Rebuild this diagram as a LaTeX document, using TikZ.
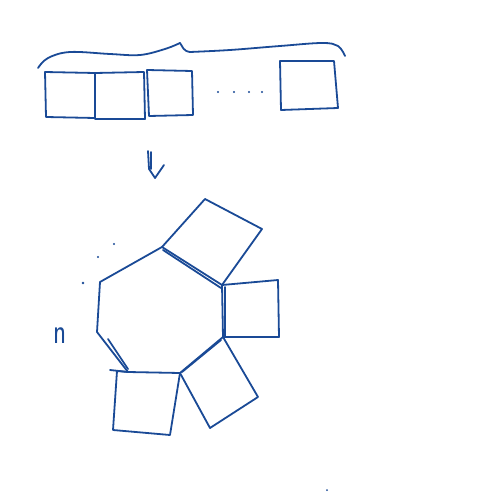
\documentclass[tikz,border=0pt]{standalone}
\begin{document}
\begin{tikzpicture}[x=1pt,y=-1pt,
  ink/.style={draw=inkblue,line width=1.8pt,line join=round,line cap=round},
  inkdot/.style={fill=inkblue}]
\definecolor{inkblue}{HTML}{1A4A96}
\useasboundingbox (0,0) rectangle (500,500);
% top row of squares
\draw[ink] (45,72) -- (95,73) -- (95,118) -- (46,117) -- cycle;
\draw[ink] (95,73) -- (144,72) -- (145,119) -- (95,119);
\draw[ink] (147,70) -- (192,71) -- (193,115) -- (149,116) -- cycle;
\draw[ink] (280,61) -- (334,61) -- (338,108) -- (281,110) -- cycle;
% dots
\foreach \x in {218,234,249,262} \fill[inkdot] (\x,92) circle (1.2pt);
% brace
\draw[ink] plot[smooth,tension=0.6] coordinates {(38,68) (48,58) (70,52) (110,54) (140,55) (165,49) (180,43)};
\draw[ink] (180,43) .. controls (183,47) and (183,51) .. (190,52);
\draw[ink] plot[smooth,tension=0.6] coordinates {(190,52) (230,50) (280,46) (322,43) (338,46) (345,56)};
% down arrow (hand-drawn double arrow)
\coordinate (arrtop) at (148,151);
\coordinate (arrtip) at (155,178);
\draw[ink] (arrtop) -- (149,169) -- (arrtip) -- (164,165);
\draw[ink] (151,152) -- (151,169);
% heptagon
\coordinate (v1) at (100,282);
\coordinate (v2) at (162,247);
\coordinate (v3) at (222,285);
\coordinate (v4) at (223,337);
\coordinate (v5) at (180,373);
\coordinate (v6) at (128,372);
\coordinate (v7) at (97,332);
\draw[ink] (v1) -- (v2) -- (v3) -- (v4) -- (v5) -- (v6) -- (v7) -- cycle;
\draw[ink] (163,250) -- (221,288);
\draw[ink] (225,287) -- (225,336);
\draw[ink] (221,340) -- (182,372);
\draw[ink] (108,339) -- (128,369);
% attached squares
\draw[ink] (v2) -- (205,199) -- (262,229) -- (v3);
\draw[ink] (v3) -- (278,280) -- (279,337) -- (v4);
\draw[ink] (v4) -- (258,397) -- (210,428) -- (v5);
\draw[ink] (v5) -- (170,435) -- (113,430) -- (117,371) -- (v6);
\draw[ink] (110,370) -- (v6);
% dots by the heptagon
\fill[inkdot] (83,283) circle (1.4pt);
\fill[inkdot] (98,257) circle (1.2pt);
\fill[inkdot] (114,244) circle (1.1pt);
% n label
\node[text=inkblue,font=\sffamily\fontsize{36}{36}\selectfont,inner sep=0pt] (n) at (60,336) {\scalebox{0.75}[1]{n}};
% stray mark
\fill[inkdot] (327,490) circle (1pt);
\end{tikzpicture}
\end{document}
